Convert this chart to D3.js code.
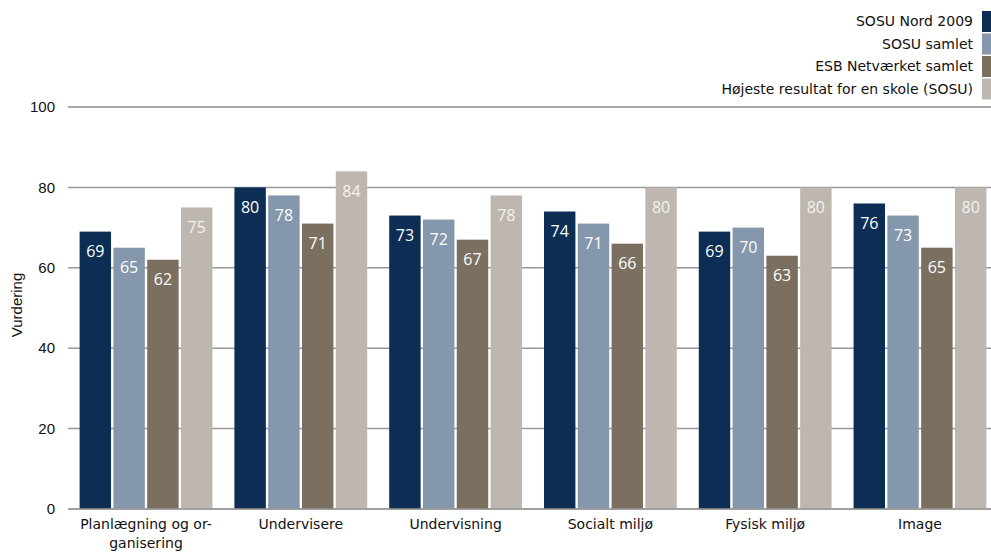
<!DOCTYPE html>
<html>
<head>
<meta charset="utf-8">
<script src="https://cdn.jsdelivr.net/npm/d3@7/dist/d3.min.js"></script>
<style>
  html, body { margin: 0; padding: 0; background: #fff; overflow: hidden; }
  svg { display: block; }
</style>
</head>
<body>
<svg id="chart" width="991" height="552"></svg>
<script>
const categories = [["Planlægning og or-", "ganisering"], ["Undervisere"], ["Undervisning"], ["Socialt miljø"], ["Fysisk miljø"], ["Image"]];
const seriesNames = ["SOSU Nord 2009", "SOSU samlet", "ESB Netværket samlet", "Højeste resultat for en skole (SOSU)"];
const sosuNord2009 = [69, 80, 73, 74, 69, 76];
const sosuSamlet = [65, 78, 72, 71, 70, 73];
const esbNetvaerket = [62, 71, 67, 66, 63, 65];
const hoejeste = [75, 84, 78, 80, 80, 80];
const yTicks = [0, 20, 40, 60, 80, 100];
const colors = ["#0c2e55", "#8497ad", "#7b6f5f", "#beb7b0"];
const yTitle = "Vurdering";

const series = [sosuNord2009, sosuSamlet, esbNetvaerket, hoejeste];
const svg = d3.select("#chart");

const mLeft = 68, mRight = 998, mTop = 107, mBottom = 509;
const x0 = d3.scaleBand().domain(d3.range(categories.length)).range([mLeft, mRight]).paddingInner(0.142).paddingOuter(0.075);
const x1 = d3.scaleBand().domain(d3.range(series.length)).range([0, x0.bandwidth()]).paddingInner(0.07);
const y = d3.scaleLinear().domain([0, 100]).range([mBottom, mTop]);

// gridlines
svg.append("g").selectAll("line").data(yTicks).join("line")
  .attr("x1", mLeft).attr("x2", 991)
  .attr("y1", d => y(d)).attr("y2", d => y(d))
  .attr("stroke", d => d === 100 ? "#555" : "#999").attr("stroke-width", d => d === 100 ? 1 : 1.5);

// y tick labels
svg.append("g").selectAll("text").data(yTicks).join("text")
  .attr("x", 55).attr("y", d => y(d)).attr("dy", "0.35em")
  .attr("text-anchor", "end")
  .attr("font-family", "Liberation Sans, Arial, sans-serif").attr("font-size", 15).attr("fill", "#111")
  .text(d => d);

// y title
svg.append("text")
  .attr("transform", `translate(22,305) rotate(-90)`)
  .attr("text-anchor", "middle")
  .attr("font-family", "Liberation Sans, Arial, sans-serif").attr("font-size", 15).attr("fill", "#111")
  .text(yTitle);

// bars
const groups = svg.append("g").selectAll("g").data(categories).join("g")
  .attr("transform", (d, i) => `translate(${x0(i)},0)`);

groups.each(function(c, ci) {
  const g = d3.select(this);
  series.forEach((s, si) => {
    g.append("rect")
      .attr("x", x1(si)).attr("width", x1.bandwidth())
      .attr("y", y(s[ci])).attr("height", y(0) - y(s[ci]))
      .attr("fill", colors[si]);
    g.append("text")
      .attr("x", x1(si) + x1.bandwidth() / 2)
      .attr("y", y(s[ci]) + 20).attr("dy", "0.35em")
      .attr("text-anchor", "middle")
      .attr("font-family", "Open Sans, Noto Sans, sans-serif").attr("font-size", 16)
      .attr("fill", si === 3 ? "#f4f2f0" : "#ffffff")
      .text(Math.round(s[ci]));
  });
});

// baseline
svg.append("line").attr("x1", mLeft).attr("x2", 991).attr("y1", y(0)).attr("y2", y(0))
  .attr("stroke", "#999").attr("stroke-width", 1.5);

// category labels
svg.append("g").selectAll("text").data(categories).join("text")
  .attr("x", (d, i) => x0(i) + x0.bandwidth() / 2)
  .attr("y", 529)
  .attr("text-anchor", "middle")
  .attr("font-family", "DejaVu Sans, Verdana, sans-serif").attr("font-size", 14).attr("fill", "#111")
  .each(function(lines) {
    const t = d3.select(this);
    lines.forEach((ln, k) => t.append("tspan").attr("x", t.attr("x")).attr("dy", k === 0 ? 0 : 19).text(ln));
  });

// legend
const leg = svg.append("g").selectAll("g").data(seriesNames).join("g")
  .attr("transform", (d, i) => `translate(0,${11 + i * 22.5})`);
leg.append("rect").attr("x", 982).attr("y", 0).attr("width", 10).attr("height", 21)
  .attr("fill", (d, i) => colors[i]);
leg.append("text").attr("x", 973).attr("y", 10.5).attr("dy", "0.35em")
  .attr("text-anchor", "end")
  .attr("font-family", "DejaVu Sans, Verdana, sans-serif").attr("font-size", 14).attr("fill", "#111")
  .text(d => d);
</script>
</body>
</html>
